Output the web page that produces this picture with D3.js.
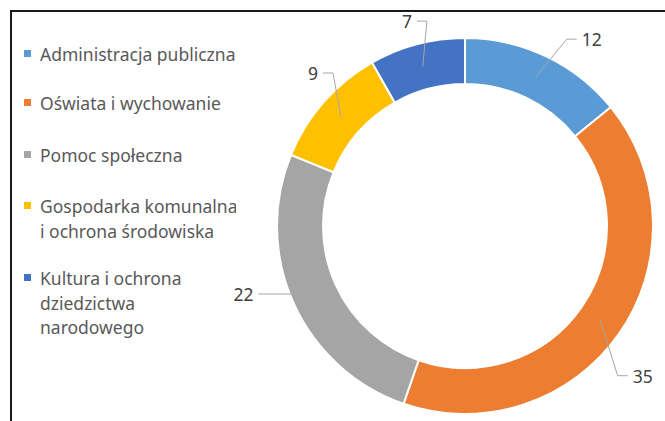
<!DOCTYPE html>
<html lang="pl">
<head>
<meta charset="UTF-8">
<title>Wykres</title>
<script src="https://cdn.jsdelivr.net/npm/d3@7"></script>
<style>
  body { margin: 0; background: #fff; }
  svg { display: block; }
</style>
</head>
<body>
<div id="grafica"></div>
<script>
// dane
const kategorie = [
  ['Administracja publiczna'],
  ['Oświata i wychowanie'],
  ['Pomoc społeczna'],
  ['Gospodarka komunalna', 'i ochrona środowiska'],
  ['Kultura i ochrona', 'dziedzictwa', 'narodowego']
]
const wartosci = [12, 35, 22, 9, 7]
const kolory = ['#5b9bd5', '#ed7d31', '#a5a5a5', '#ffc000', '#4472c4']

// polozenie etykiet: kat (stopnie od gory) i promien
const etykietyKat = [34.3, 130.3, 252.7, 315, 344.1]
const etykietyR = [225, 233, 232, 215, 212]

const ancho_total = 665
const alto_total = 421
const cx = 465, cy = 226
const rOut = 188, rIn = 142

const svg = d3.select('#grafica')
  .append('svg')
  .attr('width', ancho_total)
  .attr('height', alto_total)

// ramka (lewa i gorna krawedz)
svg.append('path')
  .attr('d', `M11,${alto_total} L11,11 L${ancho_total},11`)
  .attr('fill', 'none')
  .attr('stroke', '#1a1a1a')
  .attr('stroke-width', 2)

const g = svg.append('g')
  .attr('transform', `translate(${cx},${cy})`)

const pie = d3.pie().sort(null).value(d => d)
const arcs = pie(wartosci)

const arc = d3.arc().innerRadius(rIn).outerRadius(rOut)
const midArc = d3.arc().innerRadius((rIn + rOut) / 2).outerRadius((rIn + rOut) / 2)

g.selectAll('path.slice')
  .data(arcs)
  .enter()
  .append('path')
    .attr('class', 'slice')
    .attr('d', arc)
    .attr('fill', (d, i) => kolory[i])
    .attr('stroke', '#fff')
    .attr('stroke-width', 2)

// etykiety z liniami
const fontNum = 17.5
arcs.forEach((d, i) => {
  const a = etykietyKat[i] * Math.PI / 180
  const r = etykietyR[i]
  const tx = Math.sin(a) * r
  const ty = -Math.cos(a) * r
  const [sx, sy] = midArc.centroid(d)

  const t = g.append('text')
    .attr('x', tx)
    .attr('y', ty)
    .attr('dy', '0.36em')
    .attr('text-anchor', 'middle')
    .attr('font-family', 'Noto Sans')
    .attr('font-size', fontNum)
    .attr('fill', '#404040')
    .text(d.data)
  const w = t.node().getComputedTextLength()

  let pts
  if (Math.abs(tx - sx) < w) {
    // etykieta nad wycinkiem
    pts = [[tx, ty + 14], [sx, sy]]
  } else if (tx > sx) {
    const ex = tx - w / 2 - 5
    pts = [[ex, ty - 1], [ex - 10, ty - 1], [sx, sy]]
  } else {
    const ex = tx + w / 2 + 5
    pts = [[ex, ty - 1], [ex + 10, ty - 1], [sx, sy]]
  }
  g.insert('path', 'text')
    .attr('d', d3.line()(pts))
    .attr('fill', 'none')
    .attr('stroke', '#a6a6a6')
    .attr('stroke-width', 1)
})

// legenda
svg.append('clipPath').attr('id', 'clipLeg')
  .append('rect').attr('x', 0).attr('y', 0).attr('width', 236).attr('height', alto_total)

const leg = svg.append('g').attr('clip-path', 'url(#clipLeg)')
const legY = [61, 110, 162, 213, 285]
const lineH = 24.5

kategorie.forEach((lines, i) => {
  leg.append('rect')
    .attr('x', 24)
    .attr('y', legY[i] - 11)
    .attr('width', 7)
    .attr('height', 7)
    .attr('fill', kolory[i])
  const t = leg.append('text')
    .attr('x', 40)
    .attr('y', legY[i])
    .attr('font-family', 'Noto Sans')
    .attr('font-size', 17.5)
    .attr('fill', '#595959')
  lines.forEach((s, j) => {
    t.append('tspan')
      .attr('x', 40)
      .attr('y', legY[i] + j * lineH)
      .text(s)
  })
})
</script>
</body>
</html>
